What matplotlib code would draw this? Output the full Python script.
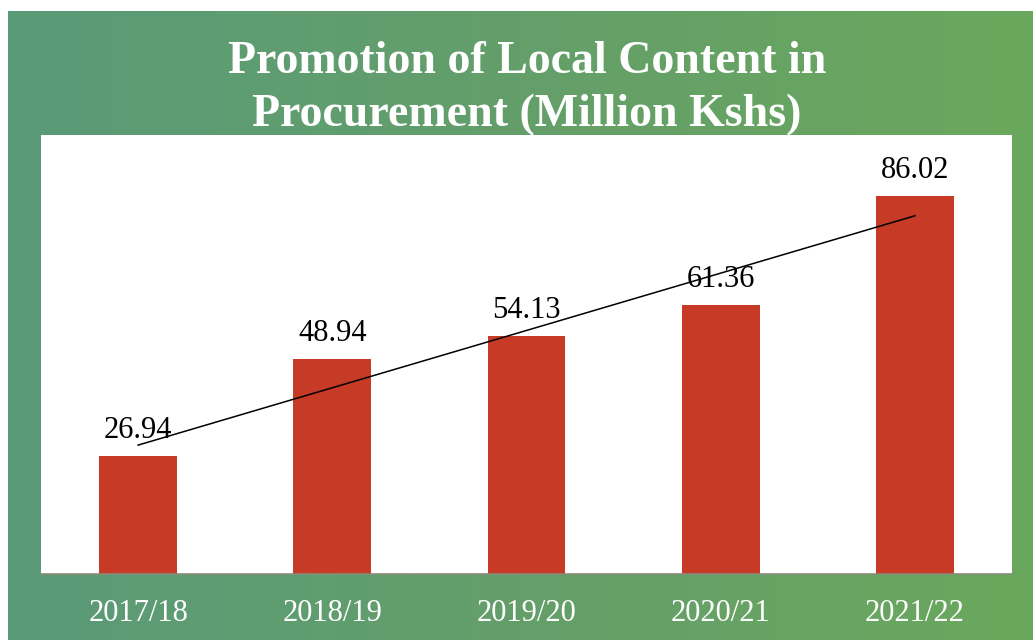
import numpy as np
import matplotlib.pyplot as plt
from matplotlib.colors import LinearSegmentedColormap

# ---------------------------
# data
# ---------------------------
years = ['2017/18', '2018/19', '2019/20', '2020/21', '2021/22']
values = [26.94, 48.94, 54.13, 61.36, 86.02]
title_lines = ['Promotion of Local Content in', 'Procurement (Million Kshs)']

bar_color = '#c73a26'
serif = ['Liberation Serif', 'DejaVu Serif']

fig = plt.figure(figsize=(10.33, 6.4), dpi=100)
fig.patch.set_facecolor('white')

# green background with a soft left-to-right gradient
bg = fig.add_axes([8 / 1033, 0, 1 - 8 / 1033, 1 - 11 / 640])
green = LinearSegmentedColormap.from_list('g', ['#5a9a78', '#649f6a', '#6aa85d'])
grad = np.linspace(0, 1, 256).reshape(1, -1)
bg.imshow(grad, aspect='auto', cmap=green, extent=[0, 1, 0, 1])
bg.set_axis_off()

# ---------------------------
# bar chart
# ---------------------------
ax = fig.add_axes([41 / 1033, 66 / 640, 971 / 1033, 439 / 640])
ax.set_facecolor('white')
x = np.arange(len(years))
bars = ax.bar(x, values, width=0.4, color=bar_color, zorder=2)

for xi, v in zip(x, values):
    ax.annotate(f'{v:.2f}', (xi, v), xytext=(0, 8), textcoords='offset points',
                ha='center', va='bottom', fontsize=22, family=serif, color='black')

# linear trend line
slope, intercept = np.polyfit(x, values, 1)
ax.plot(x, slope * x + intercept, color='black', lw=1.1, zorder=3)

ax.set_xlim(-0.5, 4.5)
ax.set_ylim(0, 100)
ax.set_yticks([])
ax.set_xticks(x)
ax.set_xticklabels(years, family=serif, fontsize=22, color='white')
ax.tick_params(axis='x', length=0, pad=18)
for s in ['top', 'left', 'right']:
    ax.spines[s].set_visible(False)
ax.spines['bottom'].set_color('#8a8a7a')
ax.spines['bottom'].set_linewidth(1.2)

# title
fig.text(527 / 1033, 1 - 62 / 640, title_lines[0], ha='center', va='center',
         fontsize=33, fontweight='bold', family=serif, color='white')
fig.text(527 / 1033, 1 - 115 / 640, title_lines[1], ha='center', va='center',
         fontsize=33, fontweight='bold', family=serif, color='white')

fig.savefig('out.png', dpi=100)
